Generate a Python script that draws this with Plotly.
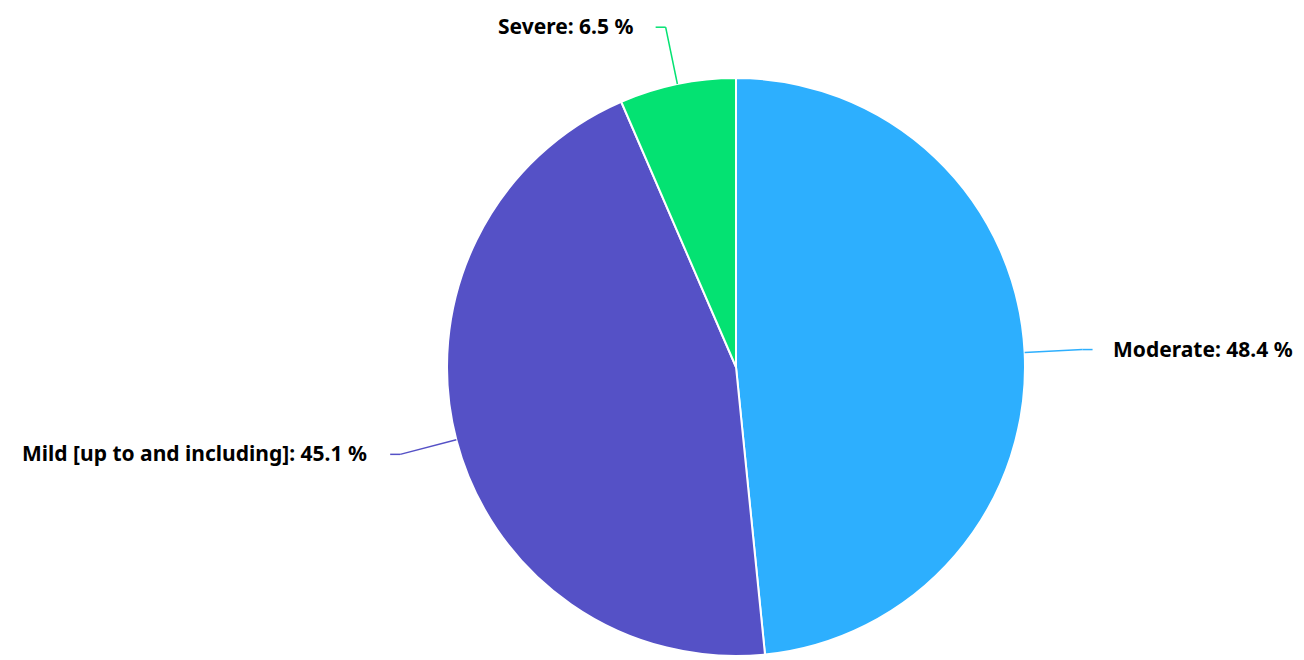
import math
import plotly.graph_objects as go

labels = ["Moderate", "Mild [up to and including]", "Severe"]
values = [48.4, 45.1, 6.5]
colors = ["#2DAFFE", "#5551C6", "#04E272"]

OFF = 8  # page body margin
W, H = 1304 - 2 * OFF, 660 - OFF
cx, cy, R = 736 - OFF, 367 - OFF, 289  # pie center/radius in figure px
dom_x = [(cx - R) / W, (cx + R) / W]
dom_y = [1 - (cy + R) / H, 1 - (cy - R) / H]

fig = go.Figure(go.Pie(
    labels=labels, values=values, sort=False, direction="clockwise", rotation=0,
    marker=dict(colors=colors, line=dict(color="white", width=2)),
    textinfo="none", hoverinfo="label+percent", showlegend=False,
    domain=dict(x=dom_x, y=dom_y),
))

def px(x, y):
    return x / W, 1 - y / H

total = sum(values)
shapes, annos = [], []
cum = 0.0
radial, horiz = 58, 10
for lab, v, col in zip(labels, values, colors):
    mid = (cum + v / 2) / total * 2 * math.pi
    cum += v
    dx, dy = math.sin(mid), -math.cos(mid)
    x0, y0 = cx + R * dx, cy + R * dy
    x1, y1 = cx + (R + radial) * dx, cy + (R + radial) * dy
    side = 1 if dx >= 0 else -1
    gap = 18 if side > 0 else 21
    x2 = x1 + side * horiz
    for (a, b), (c, d) in [((x0, y0), (x1, y1)), ((x1, y1), (x2, y1))]:
        p0, p1 = px(a, b), px(c, d)
        shapes.append(dict(type="line", xref="paper", yref="paper",
                           x0=p0[0], y0=p0[1], x1=p1[0], y1=p1[1],
                           line=dict(color=col, width=1.5)))
    tx, ty = px(x2 + side * gap, y1 - 1)
    annos.append(dict(x=tx, y=ty, xref="paper", yref="paper", showarrow=False,
                      text=f"<b>{lab}: {v} %</b>",
                      xanchor="left" if side > 0 else "right", yanchor="middle",
                      font=dict(family="Noto Sans", size=21, color="#000000")))

fig.update_layout(
    width=W, height=H, margin=dict(l=0, r=0, t=0, b=0),
    paper_bgcolor="white", plot_bgcolor="white",
    shapes=shapes, annotations=annos,
)
fig.write_html("out.html")
